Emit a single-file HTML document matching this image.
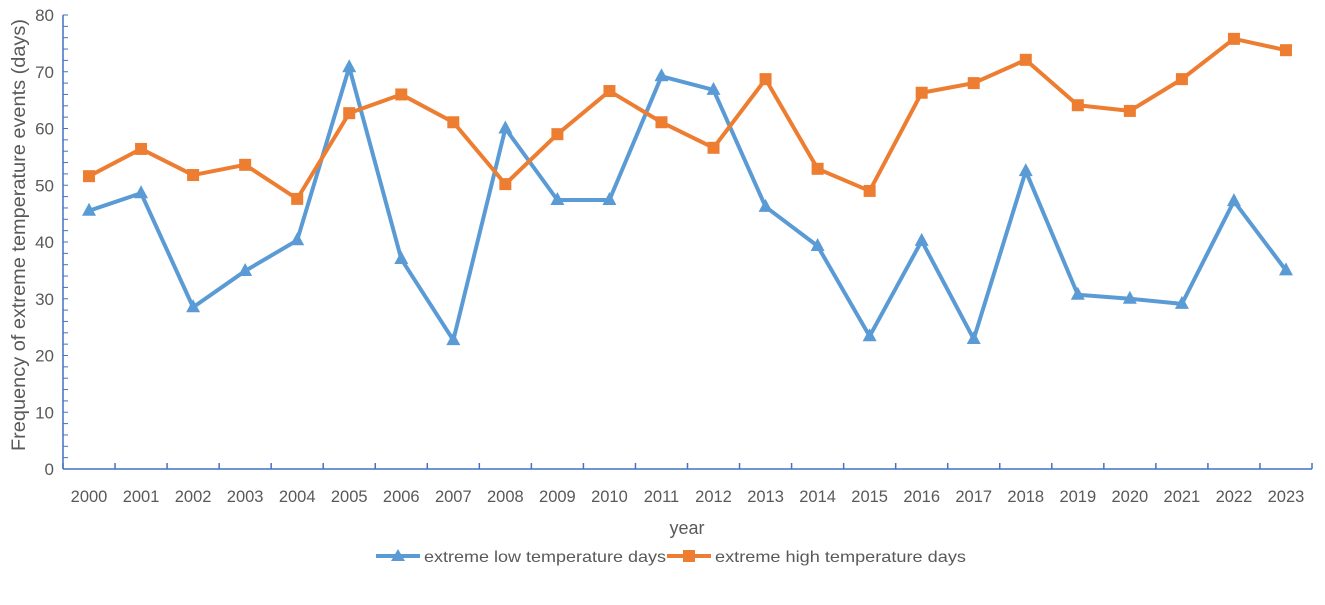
<!DOCTYPE html>
<html><head><meta charset="utf-8"><style>
body{margin:0;background:#fff;}
svg text{font-family:"Liberation Sans",sans-serif;fill:#595959;}
</style></head><body>
<svg id="chart" width="1325" height="600" xmlns="http://www.w3.org/2000/svg">
<g id="axes"></g>
<g id="series"></g>
<text transform="translate(25,235) rotate(-90)" text-anchor="middle" font-size="19" textLength="432" lengthAdjust="spacingAndGlyphs">Frequency of extreme temperature events (days)</text>
<text x="687" y="534" text-anchor="middle" font-size="18">year</text>
<g>
<g>
<line x1="376" y1="556" x2="420" y2="556" stroke="#5B9BD5" stroke-width="4"/>
<polygon points="398,549 405,561 391,561" fill="#5B9BD5"/>
<text x="424" y="562" font-size="16" textLength="242" lengthAdjust="spacingAndGlyphs">extreme low temperature days</text></g>
<g>
<line x1="667" y1="556" x2="711" y2="556" stroke="#ED7D31" stroke-width="4"/>
<rect x="683" y="550" width="12" height="12" fill="#ED7D31"/>
<text x="715" y="562" font-size="16" textLength="251" lengthAdjust="spacingAndGlyphs">extreme high temperature days</text></g>
</g>
</svg>
<script>
const years=['2000','2001','2002','2003','2004','2005','2006','2007','2008','2009','2010','2011','2012','2013','2014','2015','2016','2017','2018','2019','2020','2021','2022','2023'];
const lowDays=[45.5,48.6,28.5,34.9,40.3,70.8,37,22.7,60,47.4,47.4,69.2,66.8,46.2,39.3,23.4,40.2,22.9,52.5,30.7,30,29.1,47.2,35];
const highDays=[51.6,56.4,51.8,53.6,47.6,62.7,66,61.1,50.2,59,66.6,61.1,56.6,68.7,52.9,49,66.3,68,72.1,64.1,63.1,68.7,75.8,73.8];
const yTicks=[0,10,20,30,40,50,60,70,80];
const NS='http://www.w3.org/2000/svg';
const X0=63,X1=1312,Y0=469,Y1=15,YMAX=80;
const bw=(X1-X0)/years.length;
function xs(i){return X0+bw*(i+0.5);}
function ys(v){return Y0-(Y0-Y1)*v/YMAX;}
function mk(t,a,p){const e=document.createElementNS(NS,t);for(const k in a)e.setAttribute(k,a[k]);p.appendChild(e);return e;}
const ax=document.getElementById('axes'),se=document.getElementById('series');
const c='#4472C4';
let yl=mk('line',{x1:X0,y1:Y1,x2:X0,y2:Y0,stroke:c,'stroke-width':1.5},ax);

let xl=mk('line',{x1:X0,y1:Y0,x2:X1,y2:Y0,stroke:c,'stroke-width':1.5},ax);

for(let v=0;v<=YMAX;v+=2){mk('line',{x1:X0,y1:ys(v),x2:X0+5,y2:ys(v),stroke:c,'stroke-width':1},ax);}
yTicks.forEach(v=>{const t=mk('text',{x:X0-9,y:ys(v)+6,'text-anchor':'end','font-size':17},ax);t.textContent=v;
});
for(let i=0;i<=years.length;i++){mk('line',{x1:X0+bw*i,y1:Y0,x2:X0+bw*i,y2:Y0-6,stroke:c,'stroke-width':1.5},ax);}
years.forEach((y,i)=>{const t=mk('text',{x:xs(i),y:Y0+33,'text-anchor':'middle','font-size':16.5},ax);t.textContent=y;
});
function draw(vals,col,shape,name){
 const g=mk('g',{},se);
 
 
 const pl=mk('polyline',{points:vals.map((v,i)=>xs(i)+','+ys(v)).join(' '),fill:'none',stroke:col,'stroke-width':4,'stroke-linejoin':'round'},g);
 
 
 vals.forEach((v,i)=>{const x=xs(i),y=ys(v);let m;
  if(shape==='tri')m=mk('polygon',{points:`${x},${y-8} ${x+7},${y+5} ${x-7},${y+5}`,fill:col},g);
  else m=mk('rect',{x:x-6,y:y-6,width:12,height:12,fill:col},g);
  
  });
}
draw(lowDays,'#5B9BD5','tri','low-temp-series');
draw(highDays,'#ED7D31','sq','high-temp-series');
</script>
</body></html>
